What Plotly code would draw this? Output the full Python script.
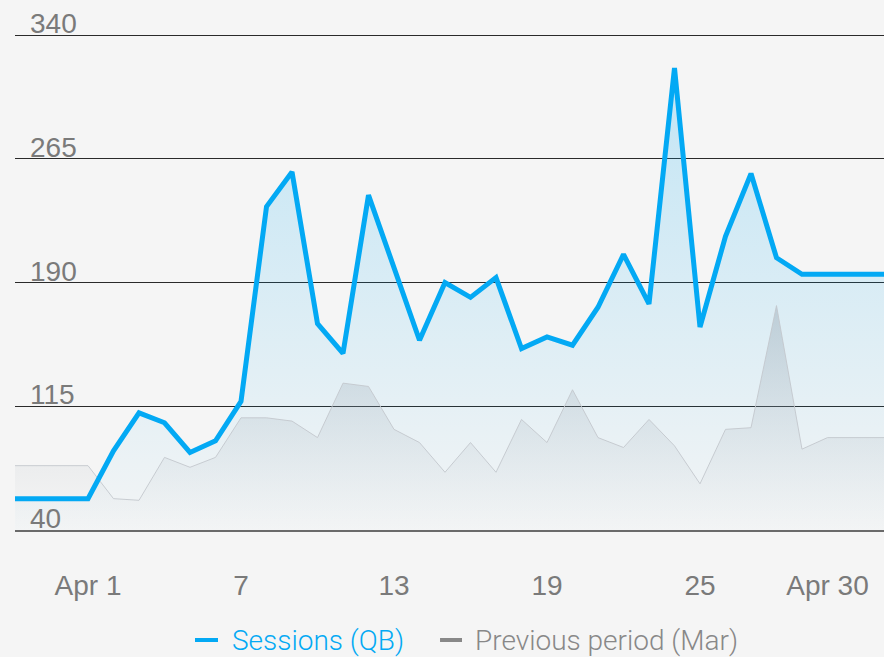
import plotly.graph_objects as go
import pandas as pd

dates = pd.date_range("2024-03-29", "2024-05-03", freq="D").strftime("%Y-%m-%d").tolist()

sessions = [59, 59, 59, 59, 88, 111, 105, 87, 94, 118, 236, 257, 165, 147, 243, 199,
            155, 190, 181, 193, 150, 157, 152, 175, 207, 177, 320, 163, 218, 256, 205,
            195, 195, 195, 195, 195]
previous = [79, 79, 79, 79, 59, 58, 84, 78, 84, 108, 108, 106, 96, 129, 127, 101,
            93, 75, 93, 75, 107, 93, 125, 96, 90, 107, 91, 68, 101, 102, 176, 89,
            96, 96, 96, 96]

y_ticks = [40, 115, 190, 265, 340]
x_tickvals = ["2024-04-01", "2024-04-07", "2024-04-13", "2024-04-19", "2024-04-25", "2024-04-30"]
x_ticktext = ["Apr 1", "7", "13", "19", "25", "Apr 30"]
series_names = ["Sessions (QB)", "Previous period (Mar)"]

BLUE = "#03A9F4"
GREY = "#888888"
BG = "#f5f5f5"
TICKFONT = dict(family="Liberation Sans, Arial, sans-serif", size=28, color="#7a7a7a")

fig = go.Figure()

# blue area (fill only)
fig.add_trace(go.Scatter(
    x=dates, y=sessions, mode="lines", line=dict(width=0, color=BLUE),
    fill="tozeroy",
    fillgradient=dict(type="vertical", start=40, stop=320,
                      colorscale=[[0, "rgba(3,169,244,0.01)"], [1, "rgba(3,169,244,0.21)"]]),
    hoverinfo="skip", showlegend=False))

# previous period area + thin line
fig.add_trace(go.Scatter(
    x=dates, y=previous, mode="lines", line=dict(width=1, color="rgba(195,200,205,0.9)"),
    fill="tozeroy",
    fillgradient=dict(type="vertical", start=40, stop=180,
                      colorscale=[[0, "rgba(170,178,186,0.0)"], [1, "rgba(140,155,168,0.40)"]]),
    name=series_names[1], showlegend=False))

# blue line on top
fig.add_trace(go.Scatter(
    x=dates, y=sessions, mode="lines", line=dict(width=5, color=BLUE),
    name=series_names[0], showlegend=False))

annotations = []
for v in y_ticks:
    annotations.append(dict(xref="paper", x=0, xanchor="left", xshift=13,
                            yref="y", y=v, yanchor="bottom", yshift=-6,
                            text=str(v), showarrow=False, font=TICKFONT))

# manual legend
legend_items = [
    (series_names[0], BLUE, 0.2071, 0.2336, 0.2475),
    (series_names[1], GREY, 0.4891, 0.5144, 0.5270),
]
shapes = []
ly = -0.2187
for name, col, x0, x1, tx in legend_items:
    shapes.append(dict(type="line", xref="paper", yref="paper", x0=x0, x1=x1, y0=ly, y1=ly,
                       line=dict(color=col, width=4)))
    annotations.append(dict(xref="paper", yref="paper", x=tx, y=ly, xanchor="left", yanchor="middle",
                            text=name, showarrow=False,
                            font=dict(family="Roboto", size=28, color=col, weight=300)))

fig.update_layout(
    width=884, height=657,
    margin=dict(l=15, r=0, t=27, b=127),
    paper_bgcolor=BG, plot_bgcolor=BG,
    showlegend=False,
    annotations=annotations, shapes=shapes,
    font=TICKFONT,
    xaxis=dict(type="date", range=["2024-03-29 03:17", "2024-05-02 05:11"],
               tickvals=x_tickvals, ticktext=x_ticktext,
               showgrid=False, zeroline=False,
               showline=True, linecolor="#6a6a6a", linewidth=2,
               ticks="outside", ticklen=29, tickcolor="rgba(0,0,0,0)",
               tickfont=TICKFONT),
    yaxis=dict(range=[40, 344.85], tickvals=y_ticks, showticklabels=False,
               showgrid=True, gridcolor="#2a2a2a", gridwidth=1, zeroline=False),
)

fig.write_html("out.html")
